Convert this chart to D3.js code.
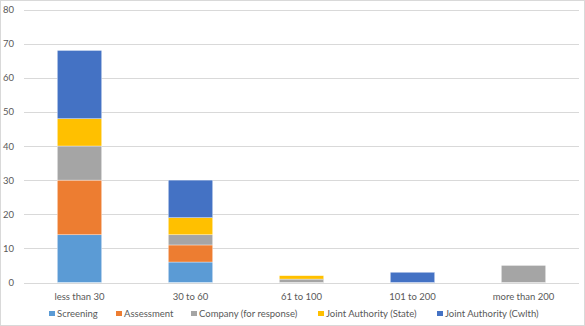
<!DOCTYPE html>
<html><head><meta charset="utf-8">
<script src="https://cdn.jsdelivr.net/npm/d3@7"></script>
<style>body{margin:0;background:#fff}svg{display:block}text{font-family:Lato,"Open Sans",sans-serif;fill:#595959}</style>
</head><body>
<script>
const categories = ["less than 30","30 to 60","61 to 100","101 to 200","more than 200"];
const seriesNames = ["Screening","Assessment","Company (for response)","Joint Authority (State)","Joint Authority (Cwlth)"];
const colors = ["#5B9BD5","#ED7D31","#A5A5A5","#FFC000","#4472C4"];
const screening = [14,6,0,0,0];
const assessment = [16,5,0,0,0];
const company = [10,3,1,0,5];
const jaState = [8,5,1,0,0];
const jaCwlth = [20,11,0,3,0];
const yTicks = [0,10,20,30,40,50,60,70,80];

const W=585,H=326;
const svg=d3.select("body").append("svg").attr("width",W).attr("height",H);
svg.append("rect").attr("x",0.5).attr("y",0.5).attr("width",W-1).attr("height",H-1).attr("fill","#fff").attr("stroke","#d9d9d9");
const x=d3.scaleBand().domain(categories).range([24,579]).paddingInner(0.6).paddingOuter(0.3);
const y=d3.scaleLinear().domain([0,80]).range([282.5,9.5]);

svg.append("g").selectAll("line").data(yTicks).join("line")
 .attr("x1",24).attr("x2",579).attr("y1",d=>Math.round(y(d))+0.5).attr("y2",d=>Math.round(y(d))+0.5)
 .attr("stroke","#d9d9d9").attr("stroke-width",1);
svg.append("g").selectAll("text").data(yTicks).join("text")
 .attr("x",14).attr("y",d=>y(d)+3.5).attr("text-anchor","end").attr("font-size","9.5px").text(d=>d);

const table=categories.map((c,i)=>({cat:c,s0:screening[i],s1:assessment[i],s2:company[i],s3:jaState[i],s4:jaCwlth[i]}));
const stack=d3.stack().keys(["s0","s1","s2","s3","s4"])(table);
svg.append("g").selectAll("g").data(stack).join("g").attr("fill",(d,i)=>colors[i])
 .selectAll("rect").data(d=>d).join("rect")
 .attr("x",d=>x(d.data.cat)).attr("width",x.bandwidth())
 .attr("y",d=>y(d[1])).attr("height",d=>Math.max(0,y(d[0])-y(d[1])))
 .attr("stroke","#fff").attr("stroke-width",0.6).attr("stroke-opacity",d=>d[1]>d[0]?0.6:0);

svg.append("g").selectAll("text").data(categories).join("text")
 .attr("x",d=>x(d)+x.bandwidth()/2).attr("y",299.5).attr("text-anchor","middle").attr("font-size","9.5px").text(d=>d);

const legX=[49,116,191,318,437];
const lg=svg.append("g").selectAll("g").data(seriesNames).join("g").attr("transform",(d,i)=>`translate(${legX[i]},317)`);
lg.append("rect").attr("x",0).attr("y",-6).attr("width",6).attr("height",5).attr("fill",(d,i)=>colors[i]);
lg.append("text").attr("x",8).attr("y",0).attr("font-size","9.5px").text(d=>d);
</script>
</body></html>
